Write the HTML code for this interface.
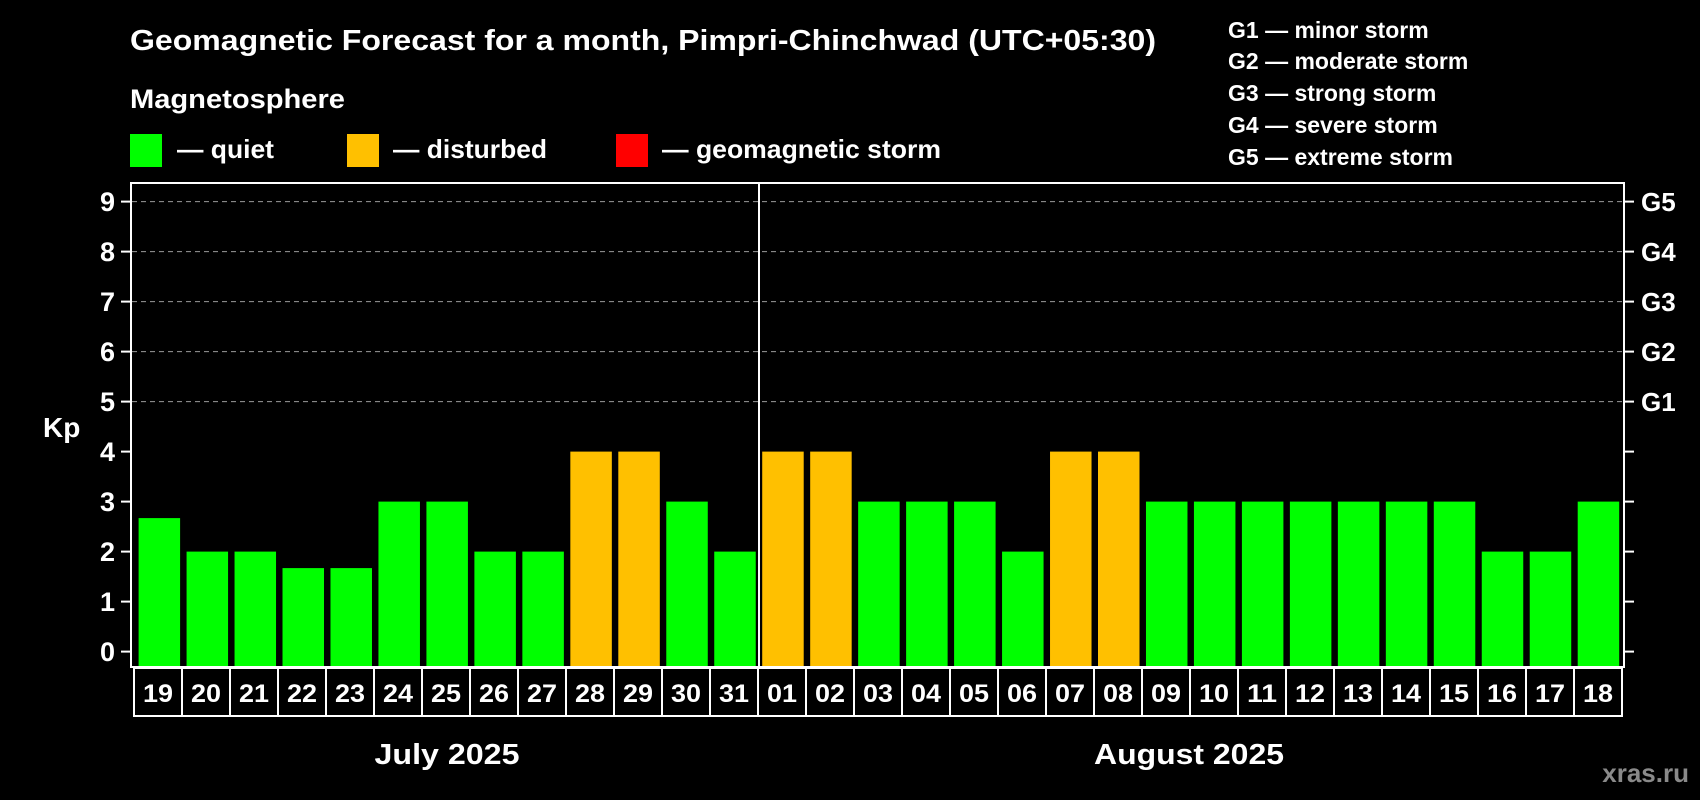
<!DOCTYPE html>
<html><head><meta charset="utf-8"><style>
html,body{margin:0;padding:0;background:#000;width:1700px;height:800px;overflow:hidden}
svg{display:block}
text{font-family:"Liberation Sans",sans-serif;font-weight:bold;fill:#fff}
</style></head><body>
<svg id="chart" width="1700" height="800" viewBox="0 0 1700 800" xmlns="http://www.w3.org/2000/svg">
<rect x="0" y="0" width="1700" height="800" fill="#000"/>
<text x="130" y="50" font-size="29" textLength="1026" lengthAdjust="spacingAndGlyphs">Geomagnetic Forecast for a month, Pimpri-Chinchwad (UTC+05:30)</text>
<text x="130" y="108" font-size="27" textLength="215" lengthAdjust="spacingAndGlyphs">Magnetosphere</text>
<rect x="130" y="134" width="32" height="33" fill="#00ff00"/>
<text x="177" y="158" font-size="26" textLength="97" lengthAdjust="spacingAndGlyphs">— quiet</text>
<rect x="347" y="134" width="32" height="33" fill="#ffc000"/>
<text x="393" y="158" font-size="26" textLength="154" lengthAdjust="spacingAndGlyphs">— disturbed</text>
<rect x="616" y="134" width="32" height="33" fill="#ff0000"/>
<text x="662" y="158" font-size="26" textLength="279" lengthAdjust="spacingAndGlyphs">— geomagnetic storm</text>
<g font-size="23">
<text x="1228" y="38">G1 — minor storm</text>
<text x="1228" y="69">G2 — moderate storm</text>
<text x="1228" y="101">G3 — strong storm</text>
<text x="1228" y="133">G4 — severe storm</text>
<text x="1228" y="165">G5 — extreme storm</text>
</g>
<text x="43" y="437" font-size="28">Kp</text>
<g id="grid"></g>
<g id="bars"></g>
<rect x="131" y="183" width="1493" height="484" fill="none" stroke="#fff" stroke-width="2"/>
<line x1="759" y1="183" x2="759" y2="667" stroke="#fff" stroke-width="2"/>
<g id="axes"></g>
<g id="dates"></g>
<text x="447" y="764" font-size="29" text-anchor="middle" textLength="145" lengthAdjust="spacingAndGlyphs">July 2025</text>
<text x="1189" y="764" font-size="29" text-anchor="middle" textLength="190" lengthAdjust="spacingAndGlyphs">August 2025</text>
<text x="1689" y="782" font-size="26" text-anchor="end" style="fill:#8a8a8a">xras.ru</text>
</svg>
<script>
const days = ["19","20","21","22","23","24","25","26","27","28","29","30","31","01","02","03","04","05","06","07","08","09","10","11","12","13","14","15","16","17","18"];
const kpValues = [2.67,2,2,1.67,1.67,3,3,2,2,4,4,3,2,4,4,3,3,3,2,4,4,3,3,3,3,3,3,3,2,2,3];
const yTicks = [0,1,2,3,4,5,6,7,8,9];
const gLabels = ["","","","","","G1","G2","G3","G4","G5"];

const NS = "http://www.w3.org/2000/svg";
const y0 = 651.6, yUnit = 50.0;
function yScale(v){ return y0 - v*yUnit; }
function barX(i){ return 138.6 + i*47.97; }
function boxX(i){ return 134 + i*48; }
function colorFor(v){ return v >= 5 ? "#ff0000" : (v >= 4 ? "#ffc000" : "#00ff00"); }
function mk(tag, attrs, parent){
  const el = document.createElementNS(NS, tag);
  for (const k in attrs) el.setAttribute(k, attrs[k]);
  parent.appendChild(el);
  return el;
}
const grid = document.getElementById("grid");
const axes = document.getElementById("axes");
const bars = document.getElementById("bars");
const dates = document.getElementById("dates");

yTicks.forEach(function(t){
  const y = yScale(t);
  if (t >= 5) {
    const g = mk("line", {x1:132, x2:1623, y1:y, y2:y, stroke:"#9a9a9a", "stroke-width":1, "stroke-dasharray":"5,4"}, grid);
    
    
  }
  const tl = mk("line", {x1:121, x2:131, y1:y, y2:y, stroke:"#fff", "stroke-width":2}, axes);
  
  
  const tr = mk("line", {x1:1624, x2:1634, y1:y, y2:y, stroke:"#fff", "stroke-width":2}, axes);
  
  
  const lab = mk("text", {x:115, y:y+9.5, "font-size":27, "text-anchor":"end"}, axes);
  lab.textContent = String(t);
  
  
  if (gLabels[t]) {
    const gl = mk("text", {x:1641, y:y+9.5, "font-size":26}, axes);
    gl.textContent = gLabels[t];
    
    
  }
});

kpValues.forEach(function(v, i){
  const top = yScale(v);
  const b = mk("rect", {x:barX(i), y:top, width:41.5, height:666 - top, fill:colorFor(v)}, bars);
  
  
});

days.forEach(function(d, i){
  const bx = boxX(i);
  const r = mk("rect", {x:bx, y:668, width:48, height:48, fill:"#000", stroke:"#fff", "stroke-width":2}, dates);
  
  
  const t = mk("text", {x:bx+24, y:702, "font-size":25, "text-anchor":"middle", textLength:30, lengthAdjust:"spacingAndGlyphs"}, dates);
  t.textContent = d;
  
  
});
</script>
</body></html>
